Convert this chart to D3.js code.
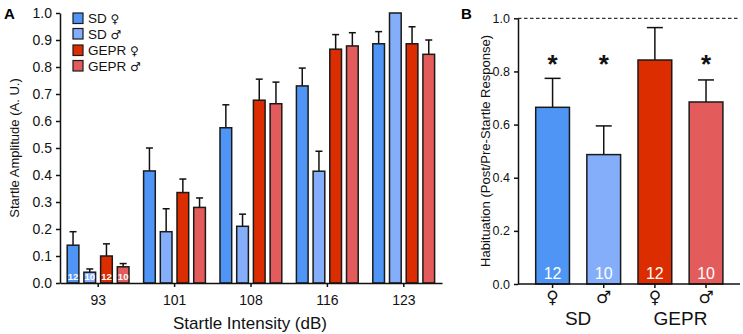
<!DOCTYPE html>
<html><head><meta charset="utf-8">
<script src="https://cdn.jsdelivr.net/npm/d3@7"></script>
<style>body{margin:0;background:#fff}svg{display:block;font-family:Arial,"Liberation Sans",sans-serif}.sym{font-family:"DejaVu Sans",sans-serif}</style>
</head><body>
<svg id="c" width="743" height="334"></svg>
<script>
const intensities = ["93","101","108","116","123"];
const groups = ["SD ♀","SD ♂","GEPR ♀","GEPR ♂"];
const groupNames = ["SD","SD","GEPR","GEPR"];
const groupSyms = ["\u2640\uFE0E","\u2642\uFE0E","\u2640\uFE0E","\u2642\uFE0E"];
const colors = ["#4f95f5","#85aefa","#dc2d00","#e35b5b"];
const countsA = [12,10,12,10];
const sdF   = [0.14,0.415,0.575,0.73,0.886];
const sdFe  = [0.05,0.085,0.085,0.066,0.045];
const sdM   = [0.04,0.19,0.21,0.414,1.0];
const sdMe  = [0.012,0.085,0.045,0.074,0];
const geF   = [0.10,0.335,0.677,0.866,0.886];
const geFe  = [0.045,0.05,0.078,0.054,0.063];
const geM   = [0.06,0.28,0.664,0.878,0.847];
const geMe  = [0.012,0.035,0.08,0.049,0.053];
const ticksA = [0,0.1,0.2,0.3,0.4,0.5,0.6,0.7,0.8,0.9,1.0];

const bGroups = ["SD ♀","SD ♂","GEPR ♀","GEPR ♂"];
const bSymbols = ["\u2640\uFE0E","\u2642\uFE0E","\u2640\uFE0E","\u2642\uFE0E"];
const bValues = [0.665,0.487,0.843,0.685];
const bErr = [0.109,0.108,0.122,0.083];
const bCounts = [12,10,12,10];
const bStars = [true,true,false,true];
const ticksB = [0,0.2,0.4,0.6,0.8,1.0];

const svg = d3.select("#c");

// ---------- Panel A ----------
const seriesA = [[sdF,sdFe],[sdM,sdMe],[geF,geFe],[geM,geMe]];
const yA = d3.scaleLinear().domain([0,1]).range([283,13]);
const xA = d3.scaleBand().domain(intensities).range([60,442]).paddingInner(0).paddingOuter(0);
const xInner = d3.scaleBand().domain(groups).range([-31,30.8]).paddingInner(0.3).paddingOuter(0);
const gA = svg.append("g");
intensities.forEach((cat,i)=>{
  groups.forEach((g,j)=>{
    const v = seriesA[j][0][i], e = seriesA[j][1][i];
    const x0 = xA(cat)+xA.bandwidth()/2 + xInner(g);
    const w = xInner.bandwidth();
    if(e>0){
      gA.append("line").attr("x1",x0+w/2).attr("x2",x0+w/2).attr("y1",yA(v)).attr("y2",yA(v+e)).attr("stroke","#111").attr("stroke-width",1.5);
      gA.append("line").attr("x1",x0+w/2-3.5).attr("x2",x0+w/2+3.5).attr("y1",yA(v+e)).attr("y2",yA(v+e)).attr("stroke","#111").attr("stroke-width",1.5);
    }
    gA.append("rect").attr("x",x0).attr("y",yA(v)).attr("width",w).attr("height",yA(0)-yA(v))
      .attr("fill",colors[j]).attr("stroke","#1a1a1a").attr("stroke-width",1.5);
    if(i===0){
      gA.append("text").attr("x",x0+w/2).attr("y",yA(0)-3).attr("text-anchor","middle")
        .attr("font-size",9.5).attr("font-weight","bold").attr("fill","#fff").text(countsA[j]);
    }
  });
});
const axA = gA.append("g").attr("transform","translate(60,0)")
  .call(d3.axisLeft(yA).tickValues(ticksA).tickFormat(d3.format(".1f")).tickSize(4).tickSizeOuter(0));
axA.selectAll("text").attr("font-size",14).attr("fill","#111").attr("dx","-1");
axA.selectAll("line,path").attr("stroke","#111").attr("stroke-width",1.5);
const axAx = gA.append("g").attr("transform","translate(0,283)")
  .call(d3.axisBottom(xA).tickSize(4).tickSizeOuter(0));
axAx.selectAll("text").attr("font-size",14).attr("fill","#111").attr("dy","1.1em");
axAx.selectAll("line,path").attr("stroke","#111").attr("stroke-width",1.5);
gA.append("text").attr("transform","translate(19,148) rotate(-90)").attr("text-anchor","middle")
  .attr("font-size",13).attr("fill","#111").text("Startle Amplitude (A. U.)");
gA.append("text").attr("x",250).attr("y",329).attr("text-anchor","middle")
  .attr("font-size",17).attr("fill","#111").text("Startle Intensity (dB)");
gA.append("text").attr("x",4).attr("y",19).attr("font-size",15).attr("font-weight","bold").text("A");
// legend
const legY = [13,28.5,45,60.5];
groups.forEach((g,j)=>{
  gA.append("rect").attr("x",73).attr("y",legY[j]).attr("width",10).attr("height",10.5)
    .attr("fill",colors[j]).attr("stroke","#1a1a1a").attr("stroke-width",1.2);
  const t = gA.append("text").attr("x",88).attr("y",legY[j]+10).attr("font-size",13.5).attr("fill","#111");
  t.append("tspan").text(groupNames[j]+" ");
  t.append("tspan").attr("class","sym").attr("font-size",12).text(groupSyms[j]);
});

// ---------- Panel B ----------
const yB = d3.scaleLinear().domain([0,1]).range([284,18.3]);
const xB = d3.scaleBand().domain(bGroups).range([527,731.6]).paddingInner(0.34).paddingOuter(0.17);
const gB = svg.append("g");
gB.append("line").attr("x1",518).attr("x2",740).attr("y1",yB(1)).attr("y2",yB(1))
  .attr("stroke","#333").attr("stroke-width",1.2).attr("stroke-dasharray","3.5,2.5");
bGroups.forEach((g,j)=>{
  const x0 = xB(g), w = xB.bandwidth(), v = bValues[j], e = bErr[j];
  gB.append("line").attr("x1",x0+w/2).attr("x2",x0+w/2).attr("y1",yB(v)).attr("y2",yB(v+e)).attr("stroke","#111").attr("stroke-width",1.5);
  gB.append("line").attr("x1",x0+w/2-8).attr("x2",x0+w/2+8).attr("y1",yB(v+e)).attr("y2",yB(v+e)).attr("stroke","#111").attr("stroke-width",1.5);
  gB.append("rect").attr("x",x0).attr("y",yB(v)).attr("width",w).attr("height",yB(0)-yB(v))
    .attr("fill",colors[j]).attr("stroke","#1a1a1a").attr("stroke-width",1.5);
  gB.append("text").attr("x",x0+w/2).attr("y",yB(0)-5).attr("text-anchor","middle")
    .attr("font-size",16).attr("fill","#fff").text(bCounts[j]);
  if(bStars[j]) gB.append("text").attr("x",x0+w/2).attr("y",73).attr("text-anchor","middle")
    .attr("font-size",26).attr("font-weight","bold").attr("fill","#111").text("*");
  gB.append("text").attr("class","sym").attr("x",x0+w/2).attr("y",303).attr("text-anchor","middle")
    .attr("font-size",17).attr("fill","#111").text(bSymbols[j]);
});
const axB = gB.append("g").attr("transform","translate(518,0)")
  .call(d3.axisLeft(yB).tickValues(ticksB).tickFormat(d3.format(".1f")).tickSize(4).tickSizeOuter(0));
axB.selectAll("text").attr("font-size",12.5).attr("fill","#111").attr("dx","-1");
axB.selectAll("line,path").attr("stroke","#111").attr("stroke-width",1.5);
const axBx = gB.append("g").attr("transform","translate(0,284)")
  .call(d3.axisBottom(xB).tickSize(4).tickSizeOuter(0).tickFormat(""));
axBx.select("path").attr("d","M518,0H740");
axBx.selectAll("line,path").attr("stroke","#111").attr("stroke-width",1.5);
gB.append("text").attr("x",(xB("SD ♀")+xB("SD ♂")+xB.bandwidth())/2).attr("y",325).attr("text-anchor","middle")
  .attr("font-size",19).attr("fill","#111").text("SD");
gB.append("text").attr("x",(xB("GEPR ♀")+xB("GEPR ♂")+xB.bandwidth())/2).attr("y",325).attr("text-anchor","middle")
  .attr("font-size",19).attr("fill","#111").text("GEPR");
gB.append("text").attr("transform","translate(490,151) rotate(-90)").attr("text-anchor","middle")
  .attr("font-size",13).attr("fill","#111").text("Habituation (Post/Pre-Startle Response)");
gB.append("text").attr("x",461).attr("y",19).attr("font-size",15).attr("font-weight","bold").text("B");
</script>
</body></html>
